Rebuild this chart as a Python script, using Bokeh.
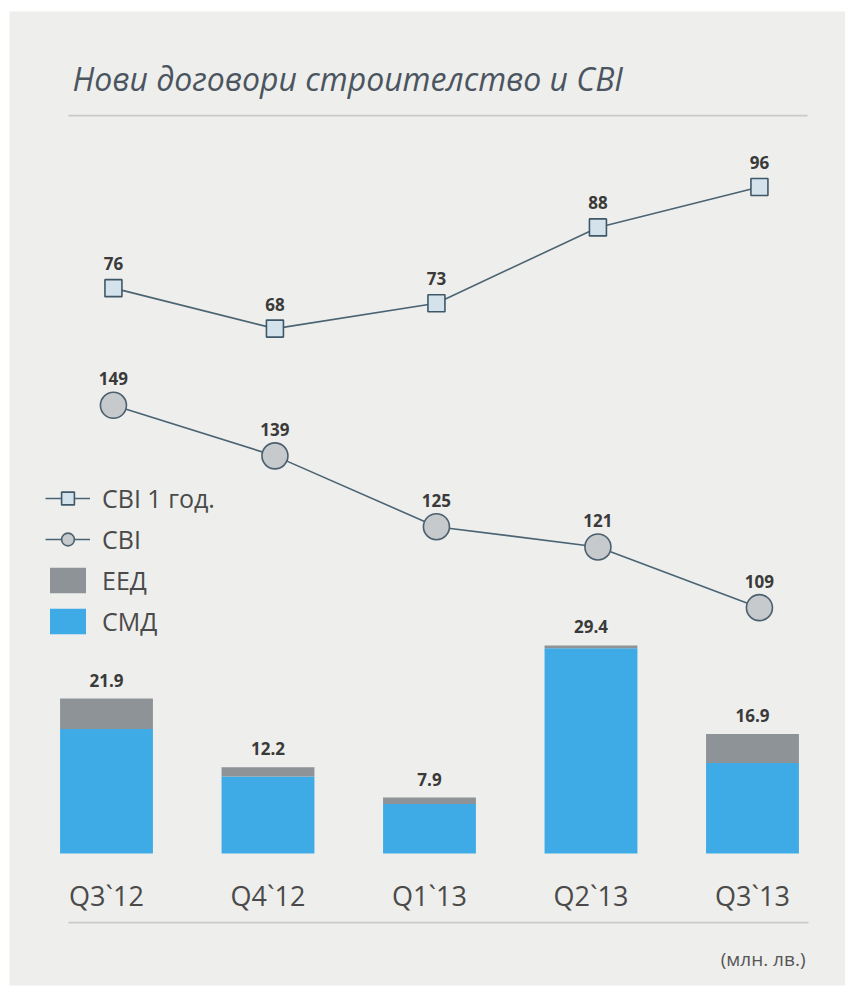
from bokeh.plotting import figure
from bokeh.models import (Range1d, ColumnDataSource, Legend,
                          LegendItem, Label, BoxAnnotation)
from bokeh.transform import dodge
from bokeh.core.properties import value
from bokeh.embed import file_html
from bokeh.resources import INLINE

# ---- data ----
quarters = ["Q3`12", "Q4`12", "Q1`13", "Q2`13", "Q3`13"]
cvi_1y = [76, 68, 73, 88, 96]          # СВІ 1 год.
cvi = [149, 139, 125, 121, 109]        # СВІ
smd = [17.6, 10.9, 7.0, 29.0, 12.8]    # СМД
eed = [4.3, 1.3, 0.9, 0.4, 4.1]        # ЕЕД
totals = [21.9, 12.2, 7.9, 29.4, 16.9]

title_text = "Нови договори строителство и СВІ"
unit_text = "(млн. лв.)"

# ---- styles ----
BG = "#eeeeec"
BLUE = "#3fabe6"
GRAY = "#8e9398"
LINE = "#4a6474"
TXT = "#3a3a3a"
RULE = "#c9c9c9"
FONT = "Open Sans"

W, H = 845, 987
TOP, LEFT, BOTTOM = 11, 9, 2

xs = list(range(len(quarters)))
src = ColumnDataSource(dict(
    x=xs, quarter=quarters, smd=smd, eed=eed, totals=totals,
    total_lbl=[f"{v:.1f}" for v in totals],
    cvi_1y=cvi_1y, cvi_1y_lbl=[str(v) for v in cvi_1y],
    cvi=cvi, cvi_lbl=[str(v) for v in cvi],
))

p = figure(width=W, height=H,
           x_range=Range1d(-0.6006, 4.5759),
           y_range=Range1d(-18.657, 119.01),
           output_backend="svg", toolbar_location=None,
           x_axis_location=None, y_axis_location=None,
           min_border_left=LEFT, min_border_right=0, min_border_top=TOP,
           min_border_bottom=BOTTOM,
           background_fill_color=BG, border_fill_color="white",
           outline_line_color=None)
p.grid.visible = False
p.extra_y_ranges = {"sq": Range1d(-61.82, 130.67), "ci": Range1d(34.33, 226.82)}

# stacked bars
bars = p.vbar_stack(["smd", "eed"], x="x", width=0.575, color=[BLUE, GRAY],
                    line_width=0, source=src)
p.text(x="x", y="totals", text="total_lbl", source=src, text_align="center",
       text_baseline="bottom", y_offset=-12, text_font=value(FONT),
       text_font_style="bold", text_font_size="17px", text_color=TXT)

# category labels under the bars (x axis)
p.text(x="x", y=0, text="quarter", source=src, text_align="center",
       text_baseline="middle", y_offset=42, text_font=value(FONT),
       text_font_size="27px", text_color="#4a4a4a")

# СВІ 1 год. line
xd = dodge("x", 0.043)
sq_line = p.line(x=xd, y="cvi_1y", source=src, y_range_name="sq",
                 line_color=LINE, line_width=1.6)
sq_pts = p.scatter(x=xd, y="cvi_1y", source=src, y_range_name="sq",
                   marker="square", size=17, fill_color="#d4e2ec",
                   line_color="#3e5868", line_width=1.6)
p.text(x=xd, y="cvi_1y", text="cvi_1y_lbl", source=src, y_range_name="sq",
       text_align="center", text_baseline="bottom", y_offset=-18,
       text_font=value(FONT), text_font_style="bold", text_font_size="17px",
       text_color=TXT)

# СВІ line
ci_line = p.line(x=xd, y="cvi", source=src, y_range_name="ci",
                 line_color=LINE, line_width=1.6)
ci_pts = p.scatter(x=xd, y="cvi", source=src, y_range_name="ci",
                   marker="circle", size=26, fill_color="#c6cacd",
                   line_color="#4b5f6e", line_width=1.6)
p.text(x=xd, y="cvi", text="cvi_lbl", source=src, y_range_name="ci",
       text_align="center", text_baseline="bottom", y_offset=-20,
       text_font=value(FONT), text_font_style="bold", text_font_size="17px",
       text_color=TXT)

# legend
legend = Legend(items=[
    LegendItem(label="СВІ 1 год.", renderers=[sq_line, sq_pts]),
    LegendItem(label="СВІ", renderers=[ci_line, ci_pts]),
    LegendItem(label="ЕЕД", renderers=[bars[1]]),
    LegendItem(label="СМД", renderers=[bars[0]]),
], location=(36, 347), orientation="vertical",
    background_fill_alpha=0, border_line_color=None,
    label_text_font=FONT, label_text_font_size="25px",
    label_text_color="#4a4a4a", glyph_width=45, glyph_height=32,
    label_height=32, spacing=7, padding=0, margin=0, label_standoff=12)
p.add_layout(legend, "center")

# title and rules
p.add_layout(Label(x=63, y=907, x_units="screen", y_units="screen",
                   text=title_text, text_font=FONT, text_font_style="italic",
                   text_font_size="32px", text_color="#4a5560",
                   text_baseline="alphabetic"))
p.add_layout(BoxAnnotation(left=59, right=798, bottom=869, top=870.8,
                           left_units="screen", right_units="screen",
                           top_units="screen", bottom_units="screen",
                           fill_color=RULE, fill_alpha=1, line_color=None))
p.add_layout(BoxAnnotation(left=59, right=799, bottom=62, top=63.8,
                           left_units="screen", right_units="screen",
                           top_units="screen", bottom_units="screen",
                           fill_color=RULE, fill_alpha=1, line_color=None))

# unit note
p.add_layout(Label(x=796, y=27, x_units="screen", y_units="screen",
                   text=unit_text, text_font=FONT, text_font_size="19px",
                   text_color="#555555", text_align="right",
                   text_baseline="middle"))

open("out.html", "w").write(file_html(p, INLINE))
